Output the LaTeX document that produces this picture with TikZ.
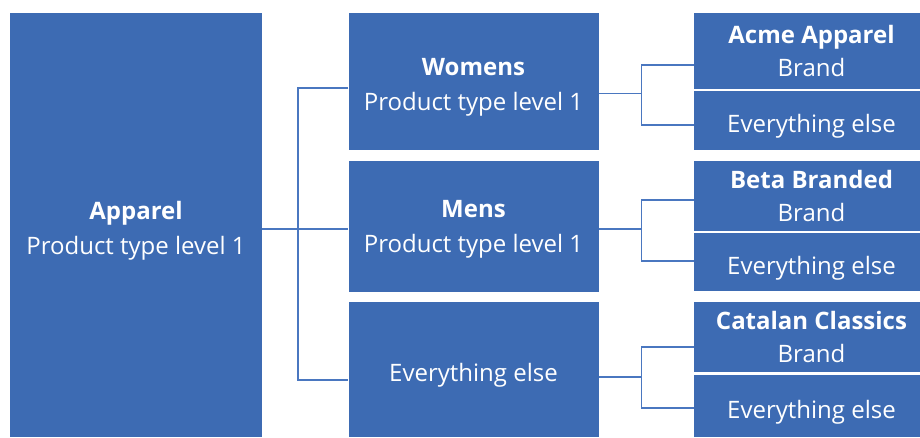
\documentclass[tikz,border=0pt]{standalone}
\usepackage{fontspec}
\setmainfont{Open Sans}
\usetikzlibrary{positioning}
\definecolor{boxblue}{RGB}{61,107,179}
\definecolor{linkblue}{RGB}{74,119,192}
\tikzset{
  box/.style={
    rectangle,
    fill=boxblue,
    inner sep=0pt,
    minimum width=250pt},
  brandbox/.style={box, minimum width=226pt},
  captext/.style={
    text=white,
    align=center,
    inner sep=0pt,
    font=\fontsize{24}{35}\selectfont},
  caption/.style={label={[captext, yshift=-6pt]center:{#1}}},
  brandcap/.style={label={[captext, xshift=4.5pt, font=\fontsize{24}{33}\selectfont]center:{#1}}},
  brandelse/.style={label={[captext, xshift=4.5pt, yshift=-6pt]center:{#1}}},
  link/.style={draw=linkblue, line width=1.2pt},
}

\begin{document}
\begin{tikzpicture}[x=1pt,y=-1pt]
    \useasboundingbox (0,0) rectangle (920,437);

    % level 1
    \node[box, minimum width=252pt, minimum height=424pt,
        caption={\textbf{Apparel}\\Product type level 1}] (apparel) at (136,225) {};

    % level 2
    \node[box, minimum height=137pt,
        caption={\textbf{Womens}\\Product type level 1}] (womens) at (473.5,81.5) {};
    \node[box, minimum height=131pt,
        label={[captext, yshift=-3pt]center:{\textbf{Mens}\\Product type level 1}}] (mens) at (473.5,226) {};
    \node[box, minimum height=135pt,
        caption={Everything else}] (others) at (473.5,369.5) {};

    % brands
    \node[brandbox, minimum height=76pt,
        brandcap={\textbf{Acme Apparel}\\Brand}] (acme) at (807,51) {};
    \node[brandbox, minimum height=59pt,
        brandelse={Everything else}] (acmeelse) at (807,120.5) {};
    \node[brandbox, minimum height=70pt,
        brandcap={\textbf{Beta Branded}\\Brand}] (beta) at (807,196) {};
    \node[brandbox, minimum height=58pt,
        brandelse={Everything else}] (betaelse) at (807,262) {};
    \node[brandbox, minimum height=70pt,
        brandcap={\textbf{Catalan Classics}\\Brand}] (catalan) at (807,337) {};
    \node[brandbox, minimum height=62pt,
        brandelse={Everything else}] (catalanelse) at (807,406) {};

    % connectors
    \coordinate (split) at (298,229);
    \draw[link] (apparel.east |- split) -- (mens.west |- split);
    \draw[link] ([yshift=-6.5pt]womens.west) -| (split) |- ([yshift=-10.5pt]others.west);

    \foreach \mid/\top/\bot/\a/\b/\c in {womens/acme/acmeelse/-12pt/-14pt/-4.5pt,
        mens/beta/betaelse/-3pt/-4pt/1pt,
        others/catalan/catalanelse/-7.5pt/-10pt/-2pt}{
      \coordinate (fork) at ([xshift=43pt,yshift=\a]\mid.east);
      \draw[link] ([yshift=\a]\mid.east) -- (fork);
      \draw[link] ([yshift=\b]\top.west) -| (fork) |- ([yshift=\c]\bot.west);
    }
\end{tikzpicture}
\end{document}
